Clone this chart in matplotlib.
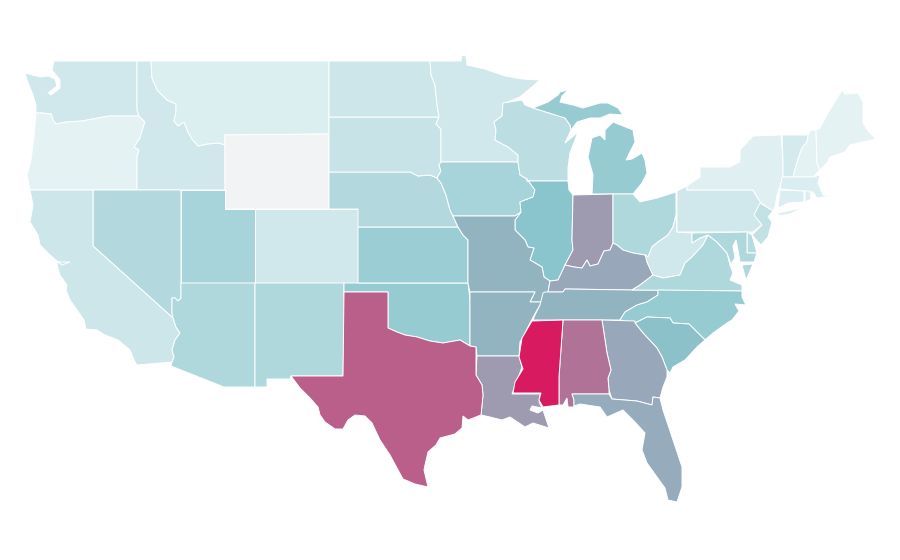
import matplotlib
matplotlib.use('Agg')
import matplotlib.pyplot as plt
from matplotlib.colors import LinearSegmentedColormap

# state outlines (x, y in image pixels)
WA = [(54,61),(137,61),(137,110),(139,116),(109,116),(93,119),(82,121),(66,122),(56,124),(53,120),(51,114),(42,113),(36,113),(36,105),(33,95),(27,80),(25,73),(40,77),(48,76),(55,79),(57,86),(48,93),(51,95),(60,88),(60,80),(52,70)]
OR = [(36,113),(42,113),(51,114),(53,120),(56,124),(66,122),(82,121),(93,119),(109,116),(139,116),(145,122),(143,128),(140,138),(134,147),(139,150),(137,157),(137,190),(30,190),(27,175),(31,160),(34,137)]
ID = [(137,61),(151,61),(152,78),(157,90),(167,100),(176,104),(176,112),(174,121),(178,126),(184,122),(188,132),(192,139),(198,146),(207,144),(219,143),(225,145),(225,190),(137,190),(137,157),(139,150),(134,147),(140,138),(143,128),(145,122),(139,116),(137,110)]
MT = [(151,61),(329,61),(329,134),(225,135),(225,145),(219,143),(207,144),(198,146),(192,139),(188,132),(184,122),(178,126),(174,121),(176,112),(176,104),(167,100),(157,90),(152,78)]
WY = [(225,135),(329,134),(329,209),(225,209)]
NV = [(93,190),(181,190),(181,298),(178,301),(175,298),(172,298),(172,313),(173,318),(93,246)]
CA = [(30,190),(93,190),(93,246),(173,318),(176,327),(180,333),(175,340),(172,350),(174,357),(172,362),(137,365),(134,360),(130,350),(118,340),(105,335),(97,330),(86,329),(84,320),(70,300),(66,290),(67,285),(60,275),(57,265),(58,262),(70,262),(62,265),(50,255),(40,245),(38,235),(35,230),(30,222),(33,205)]
UT = [(181,190),(225,190),(225,209),(255,209),(255,283),(181,283)]
CO = [(255,209),(358,209),(358,283),(255,283)]
AZ = [(181,283),(255,283),(255,387),(224,387),(171,366),(172,362),(174,357),(172,350),(175,340),(180,333),(176,327),(173,318),(172,313),(172,298),(175,298),(178,301),(181,298)]
NM = [(255,283),(344,283),(344,330),(343,376),(291,376),(290,379),(267,379),(267,387),(255,387)]
TX = [(344,292),(388,292),(388,328),(397,332),(405,335),(417,337),(430,341),(443,343),(460,340),(470,346),(476,347),(476,375),(482,385),(483,395),(481,415),(468,420),(463,416),(462,428),(455,434),(440,438),(436,445),(428,452),(425,465),(424,470),(428,487),(415,484),(403,479),(397,468),(390,455),(380,440),(372,423),(365,416),(355,415),(348,420),(343,429),(335,429),(325,422),(320,415),(318,407),(310,398),(300,388),(291,376),(343,376)]
OK = [(344,283),(468,283),(470,300),(470,346),(460,340),(443,343),(430,341),(417,337),(405,335),(397,332),(388,328),(388,292),(344,292)]
KS = [(358,227),(458,227),(463,235),(468,240),(468,283),(358,283)]
NE = [(329,172),(410,172),(418,176),(430,175),(437,178),(441,183),(446,195),(450,210),(453,216),(458,227),(358,227),(358,209),(329,209)]
SD = [(329,117),(439,117),(436,124),(441,129),(441,162),(439,165),(441,171),(437,178),(430,175),(418,176),(410,172),(329,172)]
ND = [(329,61),(430,61),(431,75),(435,85),(437,105),(439,117),(329,117)]
MN = [(430,61),(461,61),(462,55),(466,56),(467,65),(485,69),(505,76),(522,79),(540,80),(520,97),(503,104),(502,116),(494,122),(496,130),(495,140),(508,147),(518,155),(518,162),(441,162),(441,129),(436,124),(439,117),(437,105),(435,85),(431,75)]
IA = [(441,162),(518,162),(520,175),(527,179),(535,190),(533,197),(520,202),(521,212),(515,216),(453,216),(450,210),(446,195),(441,183),(437,178),(441,171),(439,165)]
WI = [(503,103),(522,100),(525,105),(533,108),(565,118),(570,125),(571,130),(565,143),(578,132),(570,153),(568,168),(568,181),(527,181),(527,179),(520,175),(518,162),(518,155),(508,147),(495,140),(496,130),(494,122),(502,116)]
MI_UP = [(533,108),(548,102),(558,95),(560,92),(568,90),(562,96),(560,102),(573,105),(583,108),(600,103),(608,103),(618,108),(623,115),(610,114),(600,118),(590,118),(577,122),(571,130),(570,125),(565,118)]
MI_LP = [(592,194),(633,194),(642,183),(647,173),(645,160),(642,153),(632,159),(626,160),(635,142),(633,130),(613,122),(605,130),(605,140),(600,135),(592,138),(588,157),(593,175)]
IL = [(527,181),(568,181),(569,190),(573,195),(572,240),(573,250),(565,265),(563,270),(558,280),(550,281),(544,277),(542,267),(530,260),(534,248),(528,247),(525,240),(515,230),(515,220),(521,212),(520,202),(533,197),(535,190),(527,179)]
IN = [(573,195),(613,194),(613,243),(610,250),(604,251),(598,264),(590,266),(587,260),(582,268),(574,267),(565,265),(573,250),(572,240)]
OH = [(613,194),(633,194),(640,202),(657,198),(676,192),(676,215),(673,227),(668,235),(658,242),(652,247),(648,257),(645,255),(633,253),(623,250),(617,245),(613,243)]
KY = [(550,281),(558,280),(565,265),(574,267),(582,268),(587,260),(590,266),(598,264),(604,251),(610,250),(613,243),(617,245),(623,250),(633,253),(645,255),(648,257),(647,262),(653,275),(640,285),(632,290),(565,289),(563,292),(548,292)]
TN = [(545,292),(563,292),(565,289),(632,290),(658,290),(658,295),(647,302),(637,305),(625,312),(620,320),(533,320),(535,315),(540,305),(543,293)]
NC = [(658,290),(742,291),(742,297),(746,305),(735,304),(739,311),(732,320),(727,323),(713,333),(705,340),(689,324),(673,323),(670,318),(647,317),(635,323),(620,320),(625,312),(637,305),(647,302),(658,295)]
SC = [(635,323),(647,317),(670,318),(673,323),(689,324),(705,340),(697,347),(685,360),(673,367),(670,373),(667,370),(662,357),(657,348),(643,333)]
GA = [(602,320),(635,321),(635,323),(643,333),(657,348),(662,357),(667,370),(667,377),(663,387),(660,398),(653,397),(652,405),(637,401),(612,399),(609,390),(608,378),(611,370),(607,353)]
AL = [(563,320),(602,320),(607,353),(611,370),(608,378),(609,390),(609,394),(572,394),(574,400),(574,407),(568,407),(567,398),(563,405),(559,405),(559,377)]
MS = [(532,321),(563,320),(559,377),(559,405),(543,407),(539,400),(541,393),(513,393),(515,382),(523,369),(519,357),(522,338)]
AR = [(470,292),(535,292),(530,302),(542,302),(537,310),(530,323),(525,333),(520,342),(519,356),(477,356),(476,347),(470,346),(470,300)]
MO = [(453,216),(515,216),(521,212),(515,220),(515,230),(525,240),(528,247),(534,248),(530,260),(542,267),(544,277),(550,281),(548,292),(542,302),(530,302),(535,292),(470,292),(468,283),(468,240),(463,235),(458,227)]
LA = [(477,356),(519,356),(522,367),(518,378),(512,394),(540,394),(539,402),(542,408),(532,406),(530,410),(538,413),(543,410),(549,428),(533,423),(525,427),(510,417),(502,420),(490,417),(481,415),(483,395),(482,385),(476,375)]
FL = [(572,394),(609,394),(612,399),(637,401),(652,405),(653,397),(660,398),(663,410),(673,440),(682,467),(682,487),(677,502),(668,500),(665,488),(657,477),(647,463),(642,450),(645,433),(635,422),(623,410),(607,417),(600,407),(580,404),(574,406),(574,400)]
PA = [(677,191),(687,186),(687,190),(753,190),(757,197),(761,203),(755,213),(762,225),(753,232),(677,232)]
NY = [(687,186),(687,190),(753,190),(757,197),(761,203),(773,211),(775,207),(777,195),(783,177),(783,160),(781,135),(753,136),(740,150),(740,162),(730,167),(700,167),(700,177)]
LONG_ISLAND = [(777,213),(802,208),(790,214),(780,216)]
VT = [(782,135),(808,135),(807,142),(802,148),(797,162),(793,177),(783,177),(783,160)]
NH = [(811,130),(816,130),(817,163),(820,170),(813,177),(793,177),(797,162),(802,148),(807,142),(808,135)]
ME = [(816,130),(820,128),(828,113),(842,90),(845,94),(858,93),(863,102),(863,123),(869,132),(876,139),(863,142),(850,145),(845,152),(830,157),(827,163),(820,170),(817,163)]
MA = [(782,177),(813,177),(820,175),(818,183),(823,195),(830,196),(817,198),(813,192),(780,189)]
CT = [(780,190),(804,191),(804,202),(788,203),(778,208)]
RI = [(805,191),(810,191),(811,199),(805,202)]
NJ = [(760,203),(773,211),(768,217),(772,222),(768,237),(761,245),(752,235),(762,225),(754,215)]
DE = [(747,232),(752,235),(757,253),(747,253)]
MD = [(692,233),(747,232),(747,253),(757,253),(754,262),(740,262),(738,250),(736,240),(733,246),(735,258),(731,264),(727,253),(717,242),(708,235),(700,238),(692,243)]
VA = [(632,290),(640,285),(653,275),(663,278),(680,275),(685,263),(692,257),(703,245),(708,235),(717,242),(727,253),(730,265),(733,273),(730,280),(742,285),(742,291)]
VA_SHORE = [(742,265),(753,264),(746,280)]
WV = [(645,255),(648,257),(652,247),(658,242),(668,235),(673,227),(676,215),(677,232),(692,233),(692,243),(700,238),(708,235),(703,245),(692,257),(685,263),(680,275),(663,278),(653,275),(647,262)]

states = ['WA','OR','ID','MT','WY','NV','CA','UT','CO','AZ','NM','OK','KS','NE','SD','ND','MN','IA','WI','MI','IL','IN','OH','MO','AR','LA','TX','KY','TN','WV','VA','NC','SC','GA','AL','FL','MS','PA','NY','VT','NH','ME','MA','CT','RI','NJ','DE','MD']
outlines = [[WA],[OR],[ID],[MT],[WY],[NV],[CA],[UT],[CO],[AZ],[NM],[OK],[KS],[NE],[SD],[ND],[MN],[IA],[WI],[MI_UP,MI_LP],[IL],[IN],[OH],[MO],[AR],[LA],[TX],[KY],[TN],[WV],[VA,VA_SHORE],[NC],[SC],[GA],[AL],[FL],[MS],[PA],[NY,LONG_ISLAND],[VT],[NH],[ME],[MA],[CT],[RI],[NJ],[DE],[MD]]
# WY has no value, it stays grey
values = [12,1,12,6,float('nan'),28,14,34,12,30,30,43,41,28,17,14,12,34,23,43,50,60,30,54,54,60,79,57,54,12,30,43,51,57,73,56,100,12,4,10,1,1,7,7,7,20,26,30]

cmap = LinearSegmentedColormap.from_list('teal_pink', [(0,'#e6f3f5'),(0.5,'#8ac5cd'),(0.6,'#9e9bb1'),(1,'#d81b60')])
cmap.set_bad('#f2f3f5')

fig = plt.figure(figsize=(9, 5.6), dpi=100)
ax = fig.add_axes([0, 0, 1, 1])
for name, rings, v in zip(states, outlines, values):
    for ring in rings:
        xs, ys = zip(*ring)
        ax.fill(xs, ys, facecolor=cmap(float('nan') if v != v else v / 100), edgecolor='white', linewidth=0.7)
ax.set_xlim(0, 900)
ax.set_ylim(560, 0)
ax.axis('off')
fig.savefig('out.png', dpi=100, facecolor='white')
